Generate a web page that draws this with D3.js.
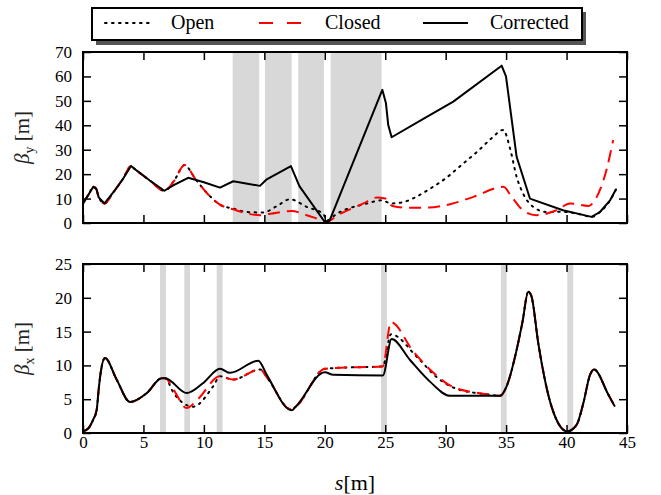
<!DOCTYPE html>
<html>
<head>
<meta charset="utf-8">
<script src="https://cdn.jsdelivr.net/npm/d3@7"></script>
<style>
  body { margin: 0; background: #fff; }
  text { font-family: "Liberation Serif", "DejaVu Serif", serif; }
</style>
</head>
<body>
<div id="vis"></div>
<script>
// beta_y, top panel  [s, beta]
var openY = [[0,8.0],[0.5,12],[0.85,14.8],[1.1,14.0],[1.3,10.5],[1.78,8.0],[2.5,12.5],[3.3,18],[3.97,23.3],[4.3,22],[5.5,17.5],[6.73,13.2],
  [7.5,17],[8.4,23.7],[9.3,18],[10.3,12],[11.33,7.5],[12.5,5.8],[13.54,4.5],[14.9,4.3],[16,6.8],[17.12,9.7],[18.5,6.6],[19.9,3.6],[20.15,1.0],
  [21,3.8],[23.5,8],[24.7,9.3],[25.5,8.0],[26.36,8.4],[27.4,10.3],[28.43,13.2],[30,18.3],[31.46,24.4],[32.7,29.6],[33.8,34.7],[34.77,38.1],[35.32,30.6],[35.87,18.9],[36.4,12.1],
  [37.24,6.6],[38.35,4.5],[39.5,4.6],[41,3.7],[42.07,2.5],[42.76,4.5],[43.6,9.3],[44.09,13.8]];
var closedY = [[0,8.0],[0.5,12],[0.85,14.8],[1.1,14.0],[1.3,10.5],[1.78,8.0],[2.5,12.5],[3.3,18],[3.97,23.3],[4.3,22],[5.5,17.5],[6.73,13.2],
  [7.5,17],[8.4,23.7],[9.3,18],[10.3,12],[11.33,7.5],[12.5,5.5],[13.5,4.0],[14.64,3.2],[15.5,3.8],[17.26,4.9],[18.5,3.2],[19.9,1.0],[20.2,0.6],
  [21,3.0],[23.2,8],[24.3,10.4],[25,10],[25.3,8.2],[25.6,7],[27.05,6.2],[28.6,6.3],[30.36,7.7],[32.3,10.7],[34.77,14.8],[35.46,10.7],[36.4,5.2],
  [37.5,3.2],[39.17,5.2],[40.3,8],[41.8,7],[42.5,10.7],[43.3,21.7],[43.86,34]];
var correctedY = [[0,8.0],[0.5,12],[0.85,14.8],[1.1,14.0],[1.3,10.5],[1.78,8.0],[2.5,12.5],[3.3,18],[3.97,23.3],[4.3,22],[5.5,17.5],[6.73,13.2],
  [7.5,15.5],[8.7,18.5],[10,16.7],[11.33,14.5],[12.43,17.1],[14.64,15.2],[15.2,17.9],[17.2,23.3],[17.9,15.1],[20.0,0.4],[20.4,1],
  [24.76,54.5],[25.06,49],[25.25,40.1],[25.53,35.1],[28.15,42.6],[30.63,49.7],[34.63,64.4],[34.99,60],[35.87,27.1],[36.97,10.0],
  [39.7,5.2],[42.07,2.5],[42.76,4.5],[43.6,9.3],[44.09,13.8]];

// beta_x, bottom panel  [s, beta]
var openX = [[0,0.24],[0.47,0.74],[0.85,2.0],[1.13,3.4],[1.3,6.5],[1.46,8.9],[1.82,11.1],[2.78,7.9],[3.89,4.6],[5.27,5.9],[6.51,8.1],[6.8,8.1],
  [7.47,6.0],[9.1,3.9],[10.8,7.0],[11.33,8.4],[12.4,7.9],[14.64,9.4],[15.3,8.0],[17.2,3.5],[17.6,3.9],[20,9.5],[20.7,9.6],[24.8,9.85],
  [25.47,14.6],[27.7,11.1],[29.3,8.2],[30.8,6.6],[33.5,5.7],[34.5,5.5],[35.04,6.9],[35.87,12.3],[36.35,16.4],[36.83,20.9],[37.1,20.2],[37.66,13.3],
  [38.76,3.9],[40.06,0.24],[40.83,1.2],[41.4,4.5],[41.94,8.6],[42.27,9.4],[43.45,5.7],[44.0,3.9]];
var closedX = [[0,0.24],[0.47,0.74],[0.85,2.0],[1.13,3.4],[1.3,6.5],[1.46,8.9],[1.82,11.1],[2.78,7.9],[3.89,4.6],[5.27,5.9],[6.51,8.1],[6.8,8.1],
  [7.5,6.4],[8.58,3.7],[9.5,5.0],[11.33,8.4],[12.4,7.9],[14.64,9.4],[15.3,8.0],[17.2,3.5],[17.6,3.9],[20,9.5],[20.7,9.6],[24.8,9.85],
  [25.47,16.4],[27.3,12.1],[28.7,9.4],[30.6,6.8],[32.8,5.9],[34.5,5.5],[35.04,6.9],[35.87,12.3],[36.35,16.4],[36.83,20.9],[37.1,20.2],[37.66,13.3],
  [38.76,3.9],[40.06,0.24],[40.83,1.2],[41.4,4.5],[41.94,8.6],[42.27,9.4],[43.45,5.7],[44.0,3.9]];
var correctedX = [[0,0.24],[0.47,0.74],[0.85,2.0],[1.13,3.4],[1.3,6.5],[1.46,8.9],[1.82,11.1],[2.78,7.9],[3.89,4.6],[5.27,5.9],[6.51,8.1],[6.8,8.1],
  [8.58,5.9],[9.95,7.4],[11.33,9.5],[12.16,8.9],[14.5,10.7],[15.2,8.6],[17.26,3.35],[17.6,3.9],[20.0,9.0],[20.7,8.6],[24.8,8.5],
  [25.53,13.9],[27.05,10.8],[28.7,7.6],[30.36,5.5],[34.5,5.5],[35.04,6.9],[35.87,12.3],[36.35,16.4],[36.83,20.9],[37.1,20.2],[37.66,13.3],
  [38.76,3.9],[40.06,0.24],[40.83,1.2],[41.4,4.5],[41.94,8.6],[42.27,9.4],[43.45,5.7],[44.0,3.9]];

// shaded elements [start, end] in s
var bandsY = [[12.38,14.58],[15.05,17.26],[17.8,19.93],[20.49,24.7]];
var bandsX = [[6.37,6.87],[8.38,8.85],[11.06,11.55],[24.65,25.15],[34.57,35.04],[40.06,40.55]];

var xTicks = [0,5,10,15,20,25,30,35,40,45];
var yTicksTop = [0,10,20,30,40,50,60,70];
var yTicksBottom = [0,5,10,15,20,25];
var seriesNames = ["Open", "Closed", "Corrected"];

var w = 661, h = 495;
var left = 83, right = 627;

var svg = d3.select("#vis").append("svg")
  .attr("width", w)
  .attr("height", h);

var x = d3.scaleLinear().domain([0,45]).range([left, right]);

var styles = [
  {color: "#000", dash: "1.6,5.4", cap: "round"},
  {color: "#ff0000", dash: "12,7", cap: "butt"},
  {color: "#000", dash: null, cap: "butt"}
];

function panel(id, top, bottom, ymax, yTicks, bands, series, sub, curves) {
  var y = d3.scaleLinear().domain([0, ymax]).range([bottom, top]);
  var g = svg.append("g");

  g.append("clipPath").attr("id", id)
    .append("rect")
    .attr("x", left).attr("y", top)
    .attr("width", right - left).attr("height", bottom - top);

  g.selectAll("rect.band")
    .data(bands)
    .enter()
    .append("rect")
    .attr("class", "band")
    .attr("x", function(d) { return x(d[0]); })
    .attr("y", top)
    .attr("width", function(d) { return x(d[1]) - x(d[0]); })
    .attr("height", bottom - top)
    .attr("fill", "#d8d8d8");

  g.selectAll("path.series")
    .data(series)
    .enter()
    .append("path")
    .attr("class", "series")
    .attr("clip-path", "url(#" + id + ")")
    .attr("d", function(d, i) {
      return d3.line()
        .x(function(p) { return x(p[0]); })
        .y(function(p) { return y(p[1]); })
        .curve(curves[i])(d);
    })
    .attr("fill", "none")
    .attr("stroke", function(d, i) { return styles[i].color; })
    .attr("stroke-width", 2)
    .attr("stroke-linejoin", "round")
    .attr("stroke-linecap", function(d, i) { return styles[i].cap; })
    .attr("stroke-dasharray", function(d, i) { return styles[i].dash; });

  // inward ticks on all four sides
  g.append("g")
    .attr("transform", "translate(0," + bottom + ")")
    .call(d3.axisBottom(x).tickValues(xTicks).tickSizeInner(-8).tickSizeOuter(0).tickFormat(sub === "x" ? d3.format("d") : ""))
    .call(styleAxis);
  g.append("g")
    .attr("transform", "translate(0," + top + ")")
    .call(d3.axisTop(x).tickValues(xTicks).tickSizeInner(-8).tickSizeOuter(0).tickFormat(""))
    .call(styleAxis);
  g.append("g")
    .attr("transform", "translate(" + left + ",0)")
    .call(d3.axisLeft(y).tickValues(yTicks).tickSizeInner(-8).tickSizeOuter(0).tickFormat(d3.format("d")))
    .call(styleAxis);
  g.append("g")
    .attr("transform", "translate(" + right + ",0)")
    .call(d3.axisRight(y).tickValues(yTicks).tickSizeInner(-8).tickSizeOuter(0).tickFormat(""))
    .call(styleAxis);

  g.append("rect")
    .attr("x", left).attr("y", top)
    .attr("width", right - left).attr("height", bottom - top)
    .attr("fill", "none")
    .attr("stroke", "#000")
    .attr("stroke-width", 2);

  var lab = g.append("text")
    .attr("transform", "translate(29," + ((top + bottom) / 2) + ") rotate(-90)")
    .attr("text-anchor", "middle")
    .attr("font-size", 21)
    .attr("fill", "#222");
  lab.append("tspan").attr("font-style", "italic").text("β");
  lab.append("tspan").attr("font-size", 14).attr("dy", 5).text(sub);
  lab.append("tspan").attr("dy", -5).text(" [m]");
}

function styleAxis(a) {
  a.select(".domain").remove();
  a.selectAll(".tick line").attr("stroke", "#000").attr("stroke-width", 1.5);
  a.selectAll(".tick text")
    .attr("font-family", "Liberation Serif, serif")
    .attr("font-size", 17)
    .attr("fill", "#000");
}

var smooth = d3.curveMonotoneX;
panel("clipTop", 52, 223, 70, yTicksTop, bandsY, [openY, closedY, correctedY], "y", [smooth, smooth, d3.curveLinear]);
panel("clipBottom", 264, 433, 25, yTicksBottom, bandsX, [openX, closedX, correctedX], "x", [smooth, smooth, smooth]);

// nudge tick labels
svg.selectAll(".tick text").each(function() {
  var t = d3.select(this);
  if (t.attr("x") !== null && +t.attr("x") < 0) t.attr("x", -11);
});

var xl = svg.append("text")
  .attr("x", 355).attr("y", 490)
  .attr("text-anchor", "middle")
  .attr("font-size", 22);
xl.append("tspan").attr("font-style", "italic").text("s");
xl.append("tspan").text("[m]");

// legend with shadow
var lg = svg.append("g");
lg.append("rect").attr("x", 96).attr("y", 12).attr("width", 490).attr("height", 33).attr("fill", "#555");
lg.append("rect").attr("x", 92).attr("y", 8).attr("width", 490).attr("height", 32)
  .attr("fill", "#fff").attr("stroke", "#000").attr("stroke-width", 2);

var legX = [105, 259, 423];
var legText = [171, 325, 490];
lg.selectAll("line.leg")
  .data(seriesNames)
  .enter()
  .append("line")
  .attr("class", "leg")
  .attr("x1", function(d, i) { return legX[i]; })
  .attr("x2", function(d, i) { return legX[i] + 45; })
  .attr("y1", 23).attr("y2", 23)
  .attr("stroke", function(d, i) { return styles[i].color; })
  .attr("stroke-width", 2)
  .attr("stroke-linecap", function(d, i) { return styles[i].cap; })
  .attr("stroke-dasharray", function(d, i) { return i === 1 ? "14,14" : styles[i].dash; });
lg.selectAll("text.leg")
  .data(seriesNames)
  .enter()
  .append("text")
  .attr("class", "leg")
  .attr("x", function(d, i) { return legText[i]; })
  .attr("y", 29)
  .attr("font-size", 20)
  .text(function(d) { return d; });
</script>
</body>
</html>
